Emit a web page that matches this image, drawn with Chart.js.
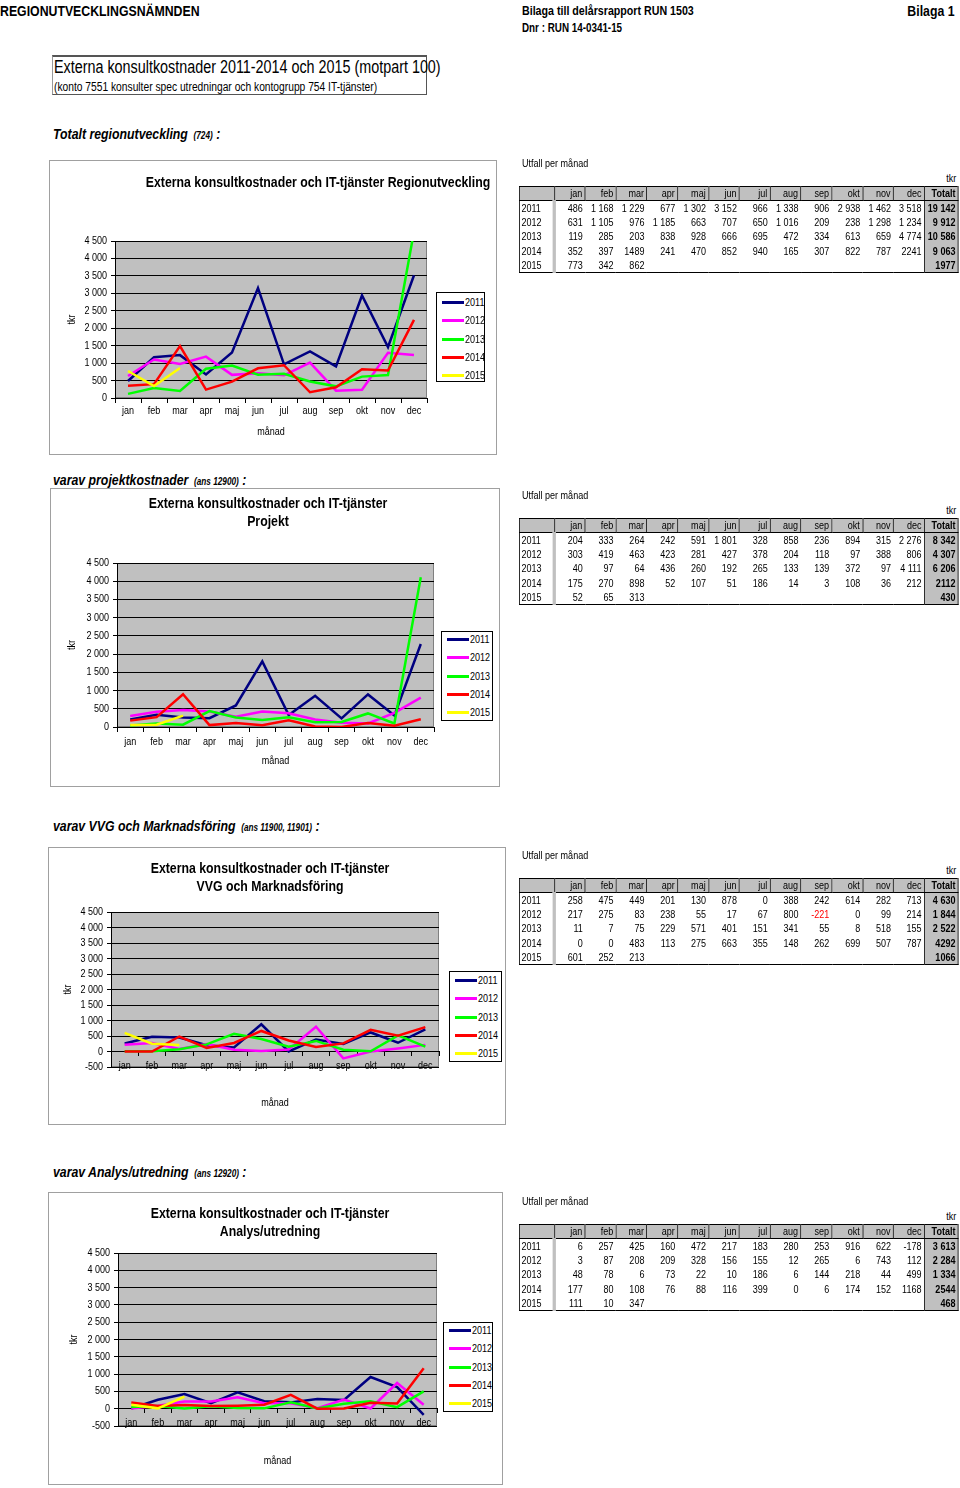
<!DOCTYPE html>
<html>
<head>
<meta charset="utf-8">
<script src="https://cdn.jsdelivr.net/npm/chart.js@4/dist/chart.umd.min.js"></script>
<style>
  body { margin: 0; background: #fff; font-family: 'Liberation Sans', Arial, sans-serif; }
  .abs { position: absolute; white-space: nowrap; }
  .narrow { transform: scaleX(0.82); transform-origin: left top; }
  .hdr { font-weight: bold; font-size: 15px; }
  .sect { font-weight: bold; font-style: italic; font-size: 15px; }
  .sect small { font-size: 10px; }
  .box { position: absolute; border: 1px solid #a0a0a0; box-sizing: border-box; background: #fff; }
  .box canvas { position: absolute; left: 0; top: 0; }
  .ctitle { position: absolute; font-weight: bold; font-size: 15px; text-align: center; line-height: 18px; transform: scaleX(0.82); transform-origin: center top; }
  .legend { position: absolute; border: 1px solid #000; background: #fff; box-sizing: border-box; font-size: 11px; }
  .legend div { position: absolute; left: 0; height: 12px; line-height: 12px; }
  .legend span.sw { position: absolute; left: 5px; top: 5px; width: 22px; height: 3px; }
  .legend span.tx { position: absolute; left: 28px; top: 0; transform: scaleX(0.82); transform-origin: left top; }
  .tcap { position: absolute; font-size: 11px; white-space: nowrap; }
  table.tbl { position: absolute; border-collapse: collapse; table-layout: fixed; border: 1px solid #000; font-size: 11px; transform: scaleX(0.82); transform-origin: left top; }
  table.tbl td { height: 14.2px; padding: 0 3px 0 0; text-align: right; white-space: nowrap; line-height: 14px; overflow: hidden; }
  table.tbl tr.head td { height: 13px; line-height: 13px; background: #c0c0c0; border-right: 1px solid #000; border-left: 1px solid #fff; border-bottom: 1px solid #000; }
  table.tbl td.yr { text-align: left; padding-left: 2px; border-right: 4px solid #c0c0c0; }
  table.tbl tr.head td.yr { border-left: none; }
  table.tbl td.tot { background: #c0c0c0; font-weight: bold; border-left: 1px solid #000; }
</style>
</head>
<body>

<div class="abs hdr narrow" style="left:0; top:2px;">REGIONUTVECKLINGSNÄMNDEN</div>
<div class="abs hdr narrow" style="left:522px; top:3px; font-size:13px;">Bilaga till delårsrapport RUN 1503</div>
<div class="abs hdr narrow" style="left:522px; top:21px; font-size:12px;">Dnr : RUN 14-0341-15</div>
<div class="abs hdr" style="right:5px; top:2px; transform:scaleX(0.82); transform-origin:right top;">Bilaga 1</div>

<div class="abs" style="left:52px; top:55px; width:375px; height:40px; border-top:2px solid #555; border-right:1px solid #555; border-bottom:1px solid #555; border-left:1px solid #999; box-sizing:border-box;">
  <div class="abs narrow" style="left:1px; top:0px; font-size:17.5px;">Externa konsultkostnader 2011-2014 och 2015 (motpart 100)</div>
  <div class="abs narrow" style="left:1px; top:23px; font-size:12.5px;">(konto 7551 konsulter spec utredningar och kontogrupp 754 IT-tjänster)</div>
</div>

<div class="abs sect narrow" style="left:53px; top:125px;">Totalt regionutveckling <small>&nbsp;(724)</small> :</div>
<div class="abs sect narrow" style="left:53px; top:471px;">varav projektkostnader <small>&nbsp;(ans 12900)</small> :</div>
<div class="abs sect narrow" style="left:53px; top:817px;">varav VVG och Marknadsföring <small>&nbsp;(ans 11900, 11901)</small> :</div>
<div class="abs sect narrow" style="left:53px; top:1163px;">varav Analys/utredning <small>&nbsp;(ans 12920)</small> :</div>

<div id="page"></div>

<script>
// Data (tkr per month)
const months = ['jan', 'feb', 'mar', 'apr', 'maj', 'jun', 'jul', 'aug', 'sep', 'okt', 'nov', 'dec'];
const years = ['2011', '2012', '2013', '2014', '2015'];
const yearColors = ['#000080', '#ff00ff', '#00ff00', '#ff0000', '#ffff00'];

const totaltRows = [
  [486, 1168, 1229, 677, 1302, 3152, 966, 1338, 906, 2938, 1462, 3518],
  [631, 1105, 976, 1185, 663, 707, 650, 1016, 209, 238, 1298, 1234],
  [119, 285, 203, 838, 928, 666, 695, 472, 334, 613, 659, 4774],
  [352, 397, 1489, 241, 470, 852, 940, 165, 307, 822, 787, 2241],
  [773, 342, 862]
];
const totaltSums = ['19 142', '9 912', '10 586', '9 063', '1977'];

const projektRows = [
  [204, 333, 264, 242, 591, 1801, 328, 858, 236, 894, 315, 2276],
  [303, 419, 463, 423, 281, 427, 378, 204, 118, 97, 388, 806],
  [40, 97, 64, 436, 260, 192, 265, 133, 139, 372, 97, 4111],
  [175, 270, 898, 52, 107, 51, 186, 14, 3, 108, 36, 212],
  [52, 65, 313]
];
const projektSums = ['8 342', '4 307', '6 206', '2112', '430'];

const vvgRows = [
  [258, 475, 449, 201, 130, 878, 0, 388, 242, 614, 282, 713],
  [217, 275, 83, 238, 55, 17, 67, 800, -221, 0, 99, 214],
  [11, 7, 75, 229, 571, 401, 151, 341, 55, 8, 518, 155],
  [0, 0, 483, 113, 275, 663, 355, 148, 262, 699, 507, 787],
  [601, 252, 213]
];
const vvgSums = ['4 630', '1 844', '2 522', '4292', '1066'];

const analysRows = [
  [6, 257, 425, 160, 472, 217, 183, 280, 253, 916, 622, -178],
  [3, 87, 208, 209, 328, 156, 155, 12, 265, 6, 743, 112],
  [48, 78, 6, 73, 22, 10, 186, 6, 144, 218, 44, 499],
  [177, 80, 108, 76, 88, 116, 399, 0, 6, 174, 152, 1168],
  [111, 10, 347]
];
const analysSums = ['3 613', '2 284', '1 334', '2544', '468'];

const plainRow = 3;           // 2014 row is printed without thousand spaces
const vvgRedCells = [[1, 8]]; // -221 shown in red

const NARROW = 0.82;
Chart.defaults.font.family = "'Liberation Sans', Arial, sans-serif";
Chart.defaults.color = '#000';

function spaced(v) {
  return String(v).replace(/\B(?=(\d{3})+(?!\d))/g, ' ');
}

// grey plot area with border, like the Excel original
const plotArea = {
  id: 'plotArea',
  beforeDraw(chart) {
    const { ctx, chartArea: a } = chart;
    ctx.save();
    ctx.fillStyle = '#c0c0c0';
    ctx.fillRect(a.left, a.top, a.width, a.height);
    ctx.strokeStyle = '#808080';
    ctx.lineWidth = 1;
    ctx.strokeRect(a.left + 0.5, a.top + 0.5, a.width - 1, a.height - 1);
    ctx.restore();
  }
};

// the original uses a condensed font; squeeze canvas text around its anchor
const narrowText = {
  id: 'narrowText',
  beforeInit(chart) {
    const ctx = chart.ctx;
    const fill = ctx.fillText.bind(ctx);
    ctx.fillText = (text, x, y, maxWidth) => {
      ctx.save();
      ctx.translate(x, y);
      ctx.scale(NARROW, 1);
      if (maxWidth === undefined) fill(text, 0, 0);
      else fill(text, 0, 0, maxWidth / NARROW);
      ctx.restore();
    };
  }
};

const sections = [
  {
    rows: totaltRows, sums: totaltSums, red: [],
    box: [49, 160, 448, 295], plot: { left: 65, right: 377, top: 80, bottom: 237 },
    min: 0, xH: 44, xPad: 2, monthY: 432, tkrX: 72,
    title: ['Externa konsultkostnader och IT-tjänster Regionutveckling'], titleX: 318, titleY: 182,
    legend: [436, 292, 49, 90], legendY0: 10,
    tableTop: 164
  },
  {
    rows: projektRows, sums: projektSums, red: [],
    box: [50, 488, 450, 299], plot: { left: 66, right: 383, top: 74, bottom: 238 },
    min: 0, xH: 44, xPad: 4, monthY: 761, tkrX: 72,
    title: ['Externa konsultkostnader och IT-tjänster', 'Projekt'], titleX: 268, titleY: 503,
    legend: [441, 631, 52, 90], legendY0: 8,
    tableTop: 496
  },
  {
    rows: vvgRows, sums: vvgSums, red: vvgRedCells,
    box: [48, 847, 458, 278], plot: { left: 62, right: 390, top: 64, bottom: 219 },
    min: -500, xH: 57, xPad: 4, monthY: 1103, tkrX: 68,
    title: ['Externa konsultkostnader och IT-tjänster', 'VVG och Marknadsföring'], titleX: 270, titleY: 868,
    legend: [449, 971, 53, 91], legendY0: 9,
    tableTop: 856
  },
  {
    rows: analysRows, sums: analysSums, red: [],
    box: [48, 1192, 455, 293], plot: { left: 69, right: 388, top: 60, bottom: 233 },
    min: -500, xH: 58, xPad: 4, monthY: 1461, tkrX: 74,
    title: ['Externa konsultkostnader och IT-tjänster', 'Analys/utredning'], titleX: 270, titleY: 1213,
    legend: [443, 1322, 50, 90], legendY0: 8,
    tableTop: 1202
  }
];

const page = document.getElementById('page');

function buildChart(sec) {
  const [bx, by, bw, bh] = sec.box;
  const box = document.createElement('div');
  box.className = 'box';
  box.style.cssText = `left:${bx}px;top:${by}px;width:${bw}px;height:${bh}px;`;
  const cw = bw - 2, ch = bh - 2;
  const ox = bx + 1, oy = by + 1;
  const canvas = document.createElement('canvas');
  canvas.width = cw;
  canvas.height = ch;
  canvas.style.width = cw + 'px';
  canvas.style.height = ch + 'px';
  box.appendChild(canvas);
  page.appendChild(box);

  // chart title
  const t = document.createElement('div');
  t.className = 'ctitle';
  t.style.cssText = `left:${sec.titleX - 300}px;width:600px;top:${sec.titleY - 9}px;`;
  t.innerHTML = sec.title.join('<br>');
  page.appendChild(t);

  // legend
  const [lx, ly, lw, lh] = sec.legend;
  const lg = document.createElement('div');
  lg.className = 'legend';
  lg.style.cssText = `left:${lx}px;top:${ly}px;width:${lw}px;height:${lh}px;`;
  years.forEach((y, i) => {
    const it = document.createElement('div');
    it.style.top = (sec.legendY0 - 7 + i * 18.3) + 'px';
    it.innerHTML = `<span class="sw" style="background:${yearColors[i]}"></span><span class="tx">${y}</span>`;
    lg.appendChild(it);
  });
  page.appendChild(lg);

  const p = sec.plot;
  const datasets = years.map((y, i) => ({
    label: y,
    data: sec.rows[i],
    borderColor: yearColors[i],
    backgroundColor: yearColors[i],
    borderWidth: 2.5,
    pointRadius: 0,
    tension: 0,
    order: years.length - i
  }));

  const half = 11 * 1.2 / 2;
  const monthPad = p.bottom + sec.xH - half - (sec.monthY - oy);

  new Chart(canvas, {
    type: 'line',
    data: { labels: months, datasets },
    plugins: [plotArea, narrowText],
    options: {
      responsive: false,
      animation: false,
      devicePixelRatio: 1,
      layout: {
        autoPadding: false,
        padding: { left: 0, top: p.top, right: cw - p.right, bottom: ch - p.bottom - sec.xH }
      },
      plugins: { legend: { display: false }, title: { display: false }, tooltip: { enabled: false } },
      scales: {
        // month labels sit on the zero line (the plot bottom when min is 0)
        x: {
          position: { y: 0 },
          offset: true,
          grid: { drawOnChartArea: false, drawTicks: true, tickLength: 4, color: '#000', offset: true },
          border: { color: '#000', width: 1 },
          ticks: { autoSkip: false, maxRotation: 0, padding: sec.xPad, font: { size: 11 } },
          afterFit(scale) { scale.height = 0; }
        },
        // carries only the axis title
        x2: {
          type: 'category',
          position: 'bottom',
          grid: { display: false },
          border: { display: false },
          ticks: { display: false },
          title: { display: true, text: 'månad', font: { size: 11 }, padding: { top: 0, bottom: monthPad } },
          afterFit(scale) { scale.height = sec.xH; }
        },
        y: {
          min: sec.min,
          max: 4500,
          grid: { color: '#000', lineWidth: 1, drawTicks: true, tickLength: 4 },
          border: { color: '#000', width: 1 },
          ticks: { stepSize: 500, autoSkip: false, padding: 4, font: { size: 11 }, callback: v => spaced(v) },
          title: { display: true, text: 'tkr', font: { size: 11 }, padding: { top: sec.tkrX - ox - half, bottom: 0 } },
          afterFit(scale) { scale.width = p.left; }
        }
      }
    }
  });
}

function buildTable(sec) {
  const top = sec.tableTop;
  const cap = document.createElement('div');
  cap.className = 'tcap narrow';
  cap.style.cssText = `left:522px;top:${top - 7}px;`;
  cap.textContent = 'Utfall per månad';
  page.appendChild(cap);

  const unit = document.createElement('div');
  unit.className = 'tcap';
  unit.style.cssText = `right:4px;top:${top + 8}px;transform:scaleX(${NARROW});transform-origin:right top;`;
  unit.textContent = 'tkr';
  page.appendChild(unit);

  const w = px => (px / NARROW).toFixed(2) + 'px';
  const tbl = document.createElement('table');
  tbl.className = 'tbl';
  tbl.style.cssText = `left:519px;top:${top + 22}px;width:${w(439)};`;
  let html = `<colgroup><col style="width:${w(35)}">` + months.map(() => `<col style="width:${w(30.83)}">`).join('') + `<col style="width:${w(34)}"></colgroup>`;
  html += '<tr class="head"><td class="yr"></td>' + months.map(m => `<td>${m}</td>`).join('') + '<td class="tot">Totalt</td></tr>';
  years.forEach((y, r) => {
    html += `<tr><td class="yr">${y}</td>`;
    months.forEach((m, c) => {
      const v = sec.rows[r][c];
      const txt = v === undefined ? '' : (r === plainRow ? String(v) : spaced(v));
      const red = sec.red.some(([rr, cc]) => rr === r && cc === c);
      html += `<td${red ? ' style="color:#ff0000"' : ''}>${txt}</td>`;
    });
    html += `<td class="tot">${sec.sums[r]}</td></tr>`;
  });
  tbl.innerHTML = html;
  page.appendChild(tbl);
}

sections.forEach(s => {
  buildChart(s);
  buildTable(s);
});
</script>
</body>
</html>
